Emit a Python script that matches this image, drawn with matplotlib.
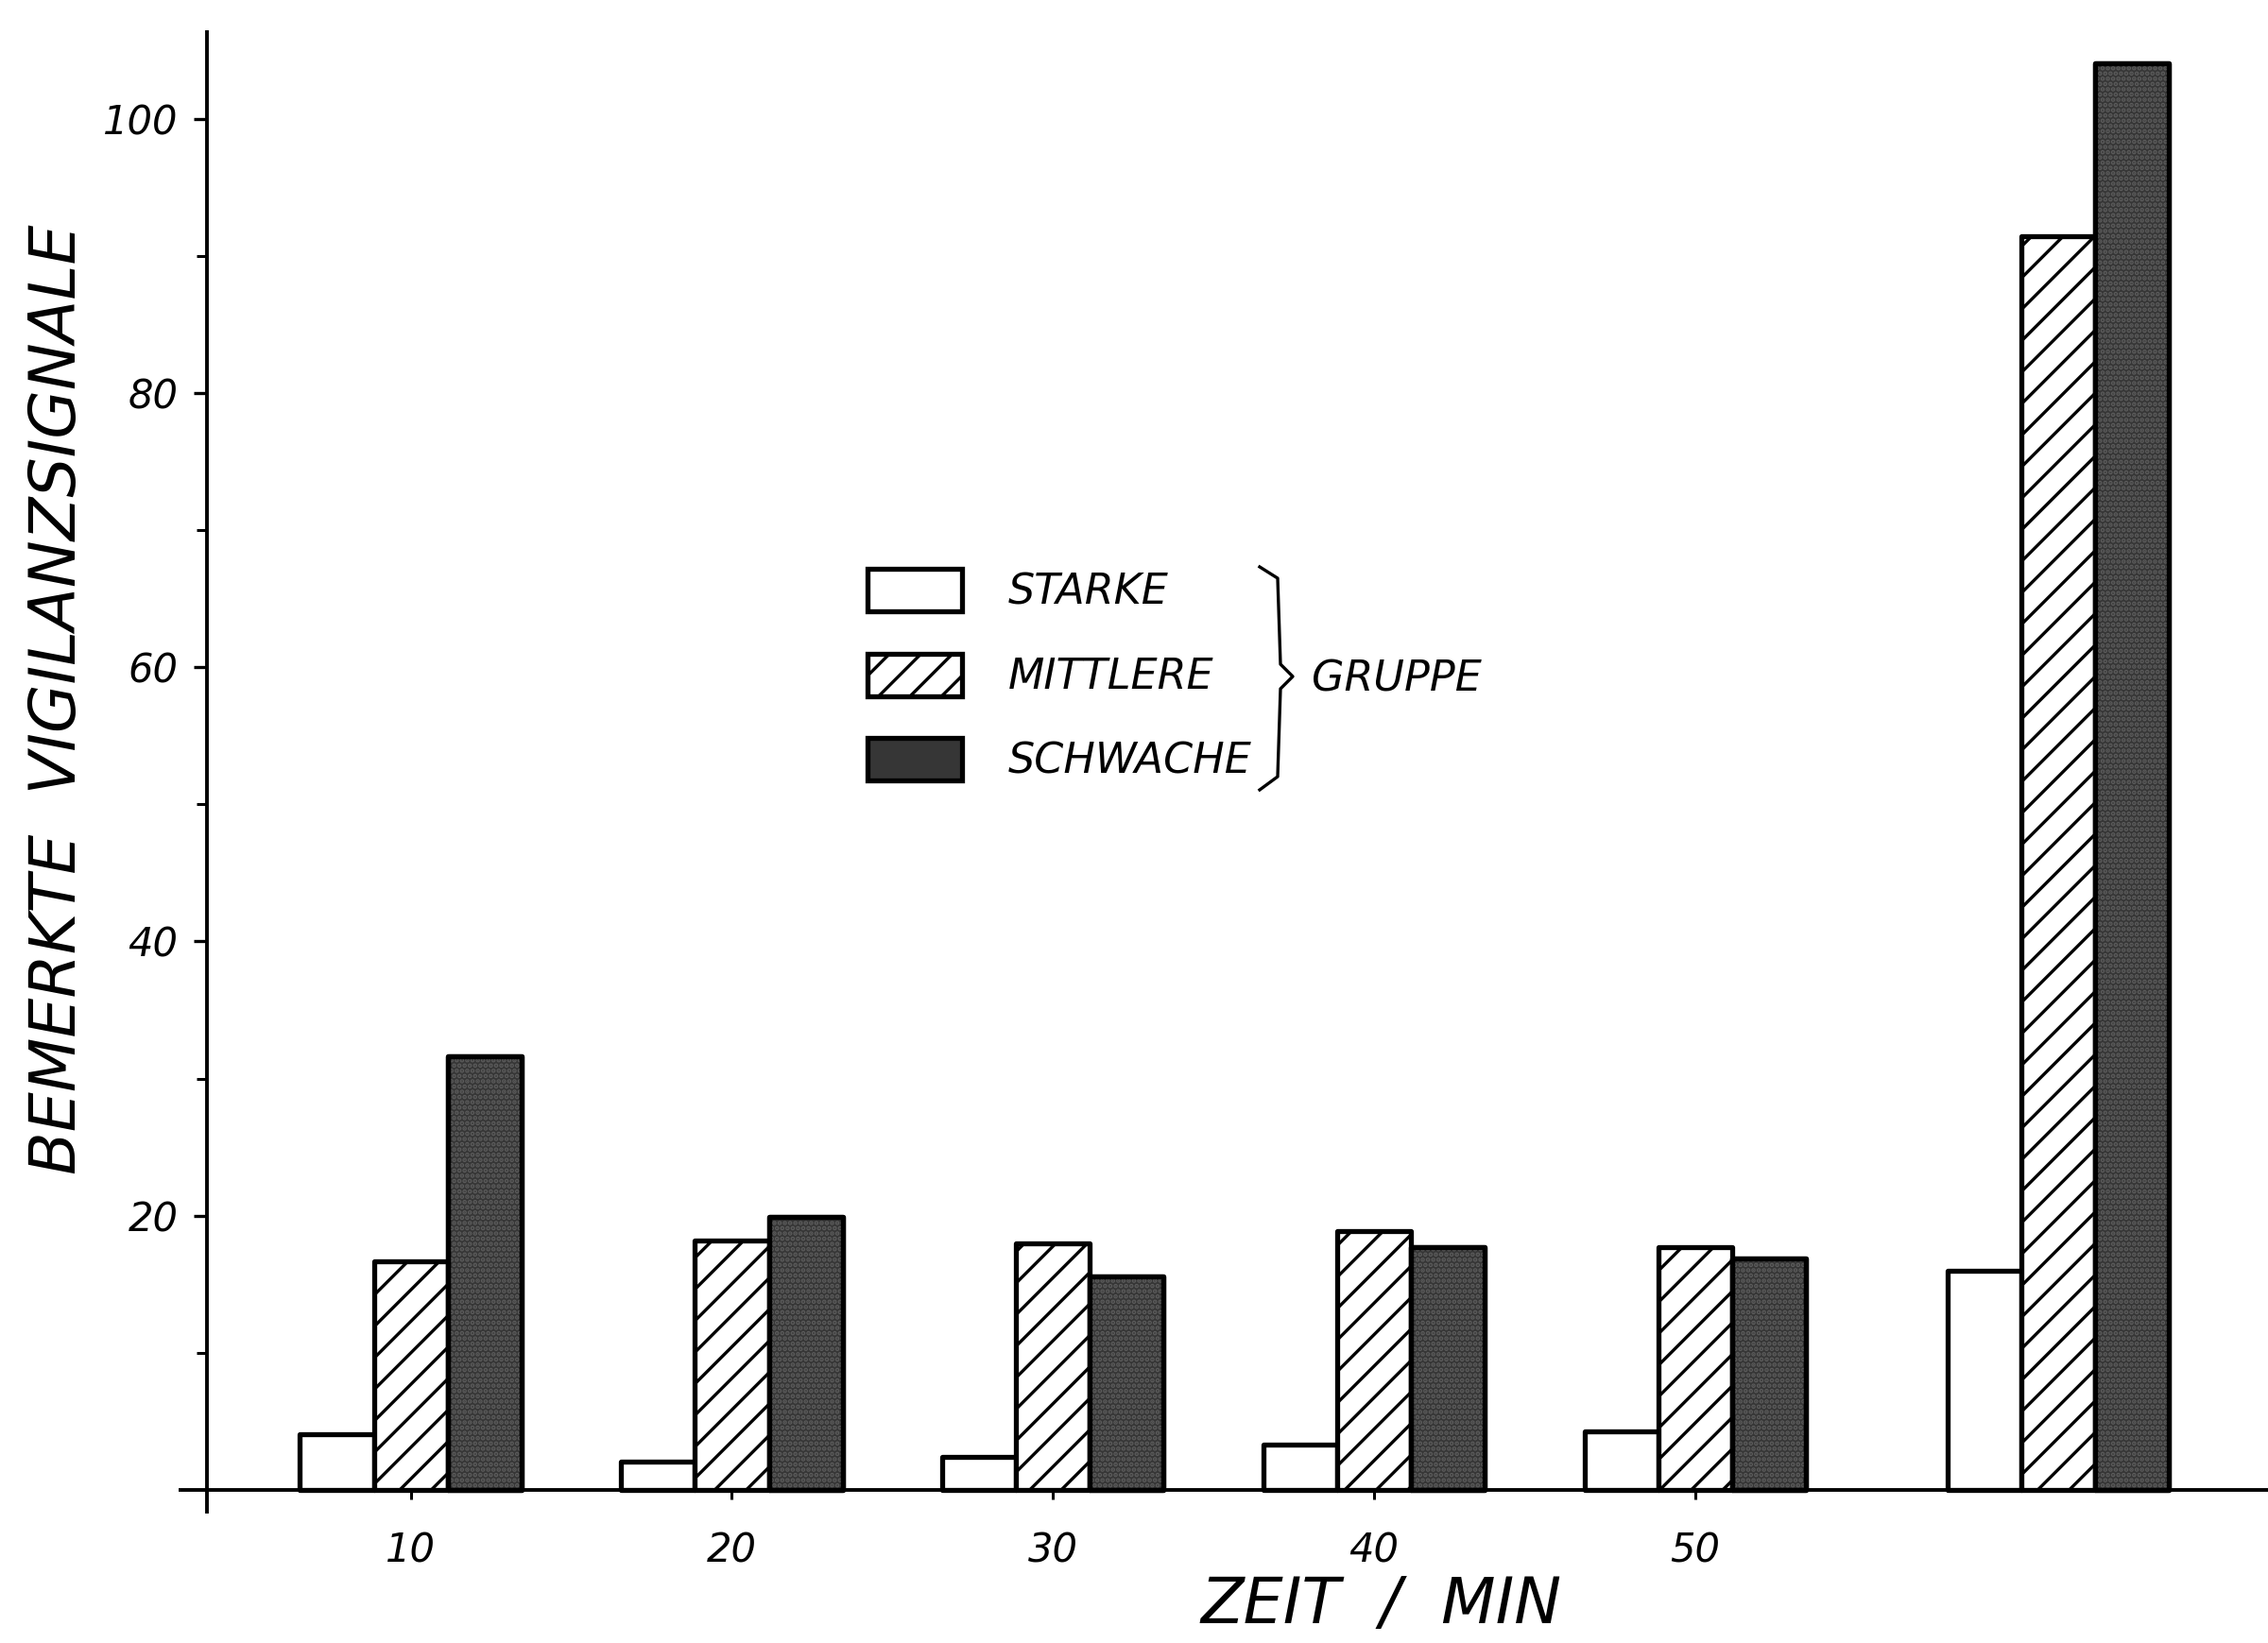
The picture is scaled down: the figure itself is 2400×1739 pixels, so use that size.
import matplotlib
matplotlib.use("Agg")
import matplotlib.pyplot as plt
from matplotlib.lines import Line2D

# --- data -------------------------------------------------------------
time_labels = ["10", "20", "30", "40", "50", ""]      # last group: unlabelled summary column
groups = ["STARKE", "MITTLERE", "SCHWACHE"]
starke = [4.1, 2.1, 2.4, 3.3, 4.3, 16.0]
mittlere = [16.7, 18.2, 18.0, 18.9, 17.7, 91.4]
schwache = [31.6, 19.9, 15.6, 17.7, 16.9, 104.0]

# --- layout -----------------------------------------------------------
W, H = 2400, 1739
plt.rcParams["hatch.linewidth"] = 2.4
plt.rcParams["font.family"] = ["DejaVu Sans"]

fig = plt.figure(figsize=(W / 100, H / 100), dpi=100)
fig.patch.set_facecolor("white")
ax = fig.add_axes([0.0796, 0.0799, 0.9204, 0.9005])

bar_w = 2.3
positions = [10 * (i + 1) for i in range(5)] + [61.3]
x_s = [p - bar_w for p in positions]
x_w = [p + bar_w for p in positions]

edge_lw = 3.8
ax.bar(x_s, starke, width=bar_w,
       facecolor="white", edgecolor="black", linewidth=edge_lw,
       joinstyle="round", label=groups[0], zorder=3)
ax.bar(positions, mittlere, width=bar_w,
       facecolor="white", edgecolor="black", linewidth=edge_lw,
       hatch="/", joinstyle="round", label=groups[1], zorder=3)
ax.bar(x_w, schwache, width=bar_w,
       facecolor="#363636", edgecolor="black", linewidth=edge_lw,
       joinstyle="round", label=groups[2], zorder=3)
# grainy stipple on the dark bars
ax.bar(x_w, schwache, width=bar_w,
       fill=False, edgecolor="#5c5c5c", linewidth=0, hatch="...", zorder=4)
ax.bar(x_w, schwache, width=bar_w,
       fill=False, edgecolor="black", linewidth=edge_lw, joinstyle="round",
       zorder=5)

# --- axes -------------------------------------------------------------
ax.set_xlim(2.83, 67.84)
ax.set_ylim(-1.58, 106.3)
for s in ("top", "right"):
    ax.spines[s].set_visible(False)
ax.spines["left"].set_position(("data", 3.65))
ax.spines["bottom"].set_position(("data", 0))
ax.spines["left"].set_linewidth(2.8)
ax.spines["bottom"].set_linewidth(2.8)

ax.set_yticks([20, 40, 60, 80, 100])
ax.set_yticks([10, 30, 50, 70, 90], minor=True)
ax.set_xticks(positions[:5])
ax.set_xticklabels(time_labels[:5])

ax.tick_params(axis="y", which="major", direction="out", length=10, width=2.4,
               pad=12, labelsize=30)
ax.tick_params(axis="y", which="minor", direction="out", length=8, width=2.2)
ax.tick_params(axis="x", which="major", direction="out", length=7, width=2.2,
               pad=24, labelsize=30)
for lbl in ax.get_xticklabels() + ax.get_yticklabels():
    lbl.set_fontstyle("italic")

# --- axis titles ------------------------------------------------------
fig.text(61 / W, 1 - 740 / H, "BEMERKTE  VIGILANZSIGNALE", rotation=90,
         ha="center", va="center", fontsize=48, fontstyle="italic")
fig.text(1462 / W, 1 - 1699 / H, "ZEIT  /  MIN", ha="center", va="center",
         fontsize=48, fontstyle="italic")

# --- legend with brace ------------------------------------------------
handles, labels = ax.get_legend_handles_labels()
leg = fig.legend(handles, labels, loc="center left",
                 bbox_to_anchor=(918 / W, 1 - 715 / H),
                 bbox_transform=fig.transFigure, frameon=False,
                 fontsize=32, handlelength=2.25, handleheight=1.17,
                 labelspacing=0.97, handletextpad=1.1, borderpad=0,
                 borderaxespad=0)
for t in leg.get_texts():
    t.set_fontstyle("italic")

bx = [1333, 1352, 1355, 1368, 1355, 1352, 1333]
by = [600, 612, 703, 716, 729, 822, 836]
fig.add_artist(Line2D([x / W for x in bx], [1 - y / H for y in by],
                      transform=fig.transFigure, color="black", lw=2.4,
                      solid_joinstyle="round"))
fig.text(1388 / W, 1 - 719 / H, "GRUPPE", ha="left", va="center",
         fontsize=32, fontstyle="italic")

fig.savefig("out.png", dpi=100)
